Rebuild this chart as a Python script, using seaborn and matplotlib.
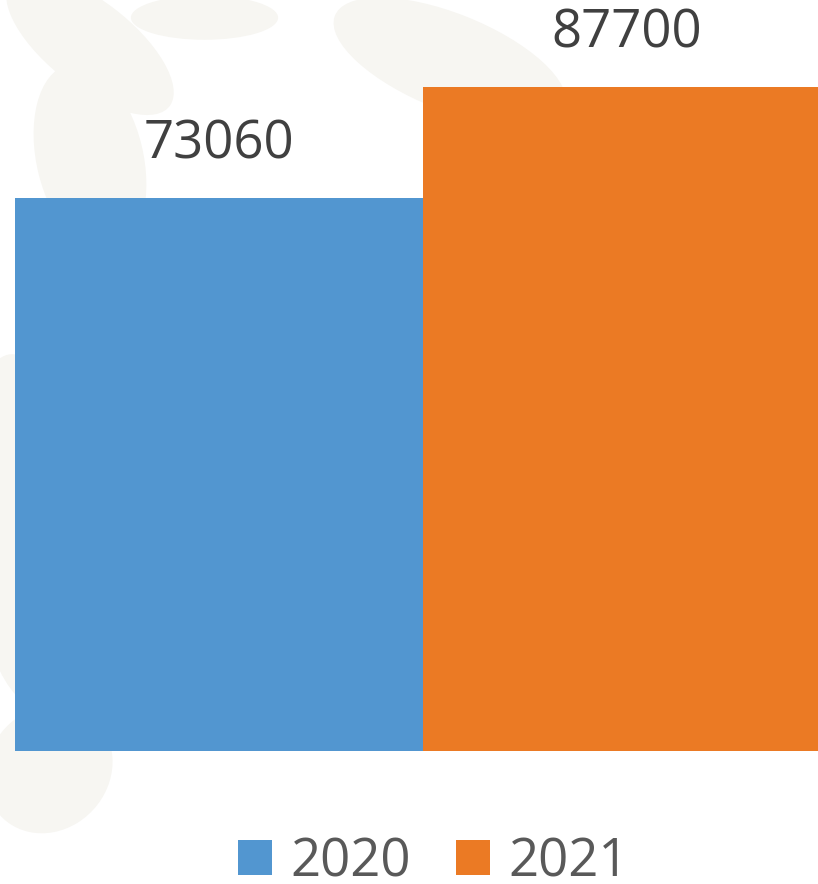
import matplotlib
matplotlib.use("Agg")
import matplotlib.pyplot as plt
import seaborn as sns
import pandas as pd
from matplotlib.patches import Ellipse

years = ["2020", "2021"]
values = [73060, 87700]
colors = ["#5296D0", "#EB7A24"]

sns.set_theme(style="white")
plt.rcParams["font.family"] = ["Open Sans", "DejaVu Sans"]

fig = plt.figure(figsize=(8.18, 8.84), dpi=100)
fig.patch.set_facecolor("white")

# faint watermark decorations on a background axes
bg = fig.add_axes([0, 0, 1, 1], zorder=-5)
bg.set_xlim(0, 1)
bg.set_ylim(0, 1)
bg.set_axis_off()
wm = "#F7F6F2"
for (cx, cy, w, h, ang) in [(0.11, 0.95, 0.24, 0.10, -35), (0.11, 0.82, 0.13, 0.22, 15),
                            (0.55, 0.93, 0.30, 0.11, -20), (0.03, 0.40, 0.14, 0.40, 5),
                            (0.06, 0.13, 0.16, 0.14, 30), (0.25, 0.98, 0.18, 0.05, 0)]:
    bg.add_patch(Ellipse((cx, cy), w, h, angle=ang, facecolor=wm, edgecolor="none"))

ax = fig.add_axes([0, (884 - 751) / 884, 1, 751 / 884], zorder=1)
ax.set_facecolor("none")

df = pd.DataFrame({"year": years, "value": values})
sns.barplot(data=df, x="year", y="value", hue="year", palette=colors,
            width=1, saturation=1, ax=ax, legend=True, dodge=False, linewidth=0)

ax.set_xlim(-0.5 - 15 / 408, 1.5 - 13 / 408)
ax.set_ylim(0, 751 * 73060 / 553)
ax.set_axis_off()

for c in ax.containers:
    ax.bar_label(c, fmt="%d", padding=19, fontsize=38, color="#404040")

sns.move_legend(ax, "lower center", bbox_to_anchor=(0.53, -0.036), bbox_transform=fig.transFigure,
                ncol=2, frameon=False, title=None, fontsize=38,
                handlelength=0.64, handleheight=0.64, handletextpad=0.34,
                columnspacing=0.87, borderaxespad=0.1)
for t in ax.get_legend().get_texts():
    t.set_color("#595959")

fig.savefig("out.png", dpi=100)
